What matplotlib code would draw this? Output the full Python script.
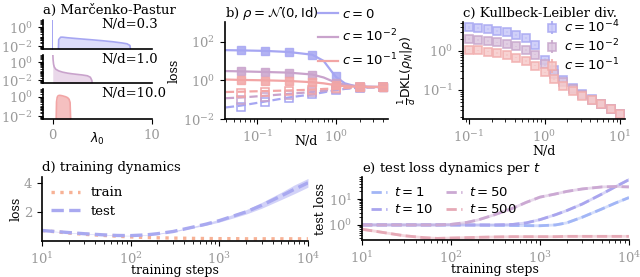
import matplotlib
matplotlib.use("Agg")
import matplotlib.pyplot as plt
from matplotlib import ticker
import numpy as np

plt.rcParams['font.family'] = 'DejaVu Serif'
plt.rcParams['mathtext.fontset'] = 'dejavusans'
plt.rcParams['font.size'] = 9
plt.rcParams['xtick.labelsize'] = 9.5
plt.rcParams['ytick.labelsize'] = 9.5
plt.rcParams['xtick.labelcolor'] = '#999999'
plt.rcParams['ytick.labelcolor'] = '#999999'
plt.rcParams['axes.linewidth'] = 1.2
plt.rcParams['xtick.major.size'] = 3.5
plt.rcParams['ytick.major.size'] = 3.5
plt.rcParams['xtick.minor.size'] = 2
plt.rcParams['ytick.minor.size'] = 2

BLUE = '#a6a6f2'
MAUVE = '#c9a3cc'
PINK = '#f2a5a5'

# a) Marcenko-Pastur spectra (read off the picture)
mp_ratios = ['N/d=0.3', 'N/d=1.0', 'N/d=10.0']
spike03_lam = [-0.06, 0.06]
spike03_rho = [10, 10]
lam03 = [0.55, 0.6, 0.8, 1.0, 1.5, 2.0, 3.0, 4.0, 5.0, 6.0, 7.0, 7.5, 7.8, 7.95]
rho03 = [1e-3, 0.05, 0.09, 0.09, 0.078, 0.07, 0.057, 0.047, 0.038, 0.03, 0.022, 0.018, 0.012, 1e-3]
lam1 = [0.0, 0.03, 0.08, 0.15, 0.3, 0.6, 1.0, 1.5, 2.0, 2.5, 3.0, 3.5, 3.8, 3.95, 4.05]
rho1 = [10, 2.0, 0.6, 0.3, 0.17, 0.11, 0.08, 0.062, 0.052, 0.045, 0.039, 0.032, 0.022, 0.01, 1e-3]
lam10 = [0.33, 0.38, 0.45, 0.55, 0.7, 0.9, 1.1, 1.3, 1.5, 1.65, 1.75, 1.83]
rho10 = [1e-3, 0.3, 0.9, 1.3, 1.4, 1.3, 1.15, 1.0, 0.8, 0.55, 0.25, 1e-3]

# b) loss vs N/d, theory lines and experiment markers
b_x_line = [0.04, 0.0625, 0.125, 0.25, 0.5, 0.7, 0.85, 1.0, 1.3, 1.7, 2.5, 4.5]
b_train_line = {
    0: [36, 35, 33, 29, 21, 10, 3.5, 1.5, 0.7, 0.52, 0.46, 0.45],
    1e-2: [3.0, 2.9, 2.7, 2.5, 2.0, 1.4, 1.0, 0.77, 0.6, 0.52, 0.47, 0.45],
    1e-1: [1.1, 1.05, 1.0, 0.93, 0.8, 0.7, 0.62, 0.55, 0.5, 0.47, 0.46, 0.45],
}
b_test_line = {
    0: [0.04, 0.05, 0.08, 0.13, 0.19, 0.24, 0.28, 0.31, 0.36, 0.4, 0.43, 0.44],
    1e-2: [0.12, 0.13, 0.16, 0.2, 0.25, 0.29, 0.31, 0.34, 0.38, 0.41, 0.43, 0.44],
    1e-1: [0.25, 0.26, 0.28, 0.3, 0.33, 0.36, 0.37, 0.39, 0.41, 0.43, 0.44, 0.45],
}
b_x_pts = [0.0625, 0.125, 0.25, 0.5, 1, 2, 4]
b_train_pts = {
    0: [35, 33, 29, 20, 1.6, 0.46, 0.45],
    1e-2: [3.2, 2.8, 2.5, 1.8, 0.75, 0.46, 0.45],
    1e-1: [1.0, 0.95, 0.88, 0.78, 0.56, 0.46, 0.45],
}
b_test_pts = {
    0: [0.042, 0.08, 0.13, 0.19, 0.32, 0.42, 0.44],
    1e-2: [0.1, 0.14, 0.18, 0.24, 0.34, 0.43, 0.44],
    1e-1: [0.22, 0.25, 0.28, 0.32, 0.39, 0.44, 0.45],
}
b_labels = {0: r'$c=0$', 1e-2: r'$c=10^{-2}$', 1e-1: r'$c=10^{-1}$'}
b_colors = {0: BLUE, 1e-2: MAUVE, 1e-1: PINK}

# c) KL divergence vs N/d
kl_x = [0.1, 0.133, 0.178, 0.237, 0.316, 0.422, 0.562, 0.75, 1.0, 1.33,
        1.78, 2.37, 3.16, 4.22, 5.62, 7.5, 10.0]
kl_c4 = [4.0, 3.85, 3.6, 3.3, 3.0, 2.6, 2.1, 1.4, 0.6, 0.32, 0.18, 0.11, 0.078, 0.058, 0.044, 0.033, 0.025]
kl_c2 = [2.0, 1.9, 1.8, 1.65, 1.5, 1.3, 1.05, 0.8, 0.45, 0.26, 0.16, 0.105, 0.075, 0.057, 0.043, 0.032, 0.024]
kl_c1 = [1.08, 1.02, 0.95, 0.87, 0.78, 0.67, 0.55, 0.42, 0.28, 0.19, 0.13, 0.095, 0.071, 0.056, 0.043, 0.032, 0.024]
kl_err4 = [0.3, 0.25, 0.2, 0.2, 0.15, 0.15, 0.12, 0.1, 0.05, 0.02, 0.01, 0.006, 0.004, 0.003, 0.002, 0.002, 0.001]
kl_err2 = [0.1, 0.1, 0.08, 0.08, 0.07, 0.06, 0.05, 0.04, 0.03, 0.015, 0.008, 0.005, 0.004, 0.003, 0.002, 0.002, 0.001]
kl_err1 = [0.05, 0.05, 0.04, 0.04, 0.03, 0.03, 0.03, 0.02, 0.015, 0.01, 0.006, 0.005, 0.004, 0.003, 0.002, 0.002, 0.001]

# d) training dynamics, e) test loss per t
steps = [10, 15, 20, 30, 50, 70, 100, 150, 200, 300, 500, 700, 1000, 1500, 2000, 3000, 5000, 7000, 10000]
train_loss = [0.72, 0.62, 0.55, 0.46, 0.38, 0.33, 0.28, 0.24, 0.22, 0.2, 0.18, 0.17, 0.16, 0.16, 0.15, 0.15, 0.15, 0.15, 0.15]
test_loss = [0.72, 0.64, 0.58, 0.5, 0.42, 0.38, 0.37, 0.42, 0.5, 0.65, 0.95, 1.15, 1.4, 1.75, 2.0, 2.45, 3.1, 3.55, 4.0]
test_lo = [0.7, 0.62, 0.56, 0.48, 0.4, 0.36, 0.35, 0.4, 0.47, 0.61, 0.9, 1.08, 1.3, 1.62, 1.85, 2.25, 2.85, 3.25, 3.7]
test_hi = [0.74, 0.66, 0.6, 0.52, 0.44, 0.4, 0.39, 0.44, 0.53, 0.69, 1.0, 1.22, 1.5, 1.88, 2.15, 2.65, 3.35, 3.85, 4.3]

t_labels = [r'$t=1$', r'$t=10$', r'$t=50$', r'$t=500$']
t_colors = ['#a2b6f6', '#a9a5ee', '#cba9d3', '#e6a9b6']
t1_loss = [1.0, 1.0, 1.0, 1.0, 1.0, 1.0, 1.0, 0.99, 0.98, 0.97, 0.95, 0.94, 0.93, 1.0, 1.2, 2.0, 4.2, 7.0, 11.5]
t10_loss = [1.0, 1.0, 1.0, 1.0, 1.0, 1.0, 1.0, 1.0, 1.0, 1.0, 1.05, 1.2, 1.6, 2.5, 3.6, 6.5, 16, 30, 57]
t50_loss = [1.0, 1.0, 1.0, 1.0, 1.0, 1.0, 1.05, 1.25, 1.55, 2.4, 4.5, 7.5, 12, 16, 20, 25, 30, 31, 30]
t500_loss = [0.68, 0.55, 0.47, 0.38, 0.32, 0.3, 0.31, 0.32, 0.33, 0.34, 0.35, 0.35, 0.35, 0.35, 0.36, 0.36, 0.36, 0.36, 0.36]
t_losses = [t1_loss, t10_loss, t50_loss, t500_loss]


def clean(ax):
    ax.spines['top'].set_visible(False)
    ax.spines['right'].set_visible(False)


fig = plt.figure(figsize=(6.4, 2.77), dpi=100)

# ---- a) three stacked spectra
a_pos = [[0.067, 0.823, 0.170, 0.105],
         [0.067, 0.700, 0.170, 0.101],
         [0.067, 0.570, 0.170, 0.108]]
a_data = [(lam03, rho03, BLUE, '#dcdcfa'), (lam1, rho1, MAUVE, '#ead8ea'), (lam10, rho10, PINK, '#f5c0c0')]
for i, (pos, (lam, rho, ec, fc)) in enumerate(zip(a_pos, a_data)):
    ax = fig.add_axes(pos)
    clean(ax)
    ax.fill_between(lam, 1e-4, rho, color=fc, lw=0)
    ax.plot(lam, rho, color=ec, lw=1.2)
    if i == 0:
        ax.fill_between(spike03_lam, 1e-4, spike03_rho, color=ec, lw=0)
    ax.set_yscale('log')
    ax.set_ylim(5e-3, 6)
    ax.set_xlim(-1, 10)
    ax.set_yticks([1e-2, 1])
    ax.yaxis.set_minor_locator(ticker.LogLocator(subs='all', numticks=20))
    ax.yaxis.set_minor_formatter(ticker.NullFormatter())
    ax.set_xticks([0, 10])
    ax.text(0.54, 0.84, mp_ratios[i], transform=ax.transAxes, ha='left', va='center', fontsize=9.5)
    if i < 2:
        ax.tick_params(axis='x', labelbottom=False, length=0)
    else:
        ax.set_xlabel(r'$\lambda_0$', labelpad=-8)
    if i == 0:
        ax.set_title('a) Marčenko-Pastur', loc='left', fontsize=9.5, pad=4)

# ---- b) loss vs N/d
axb = fig.add_axes([0.3516, 0.570, 0.2547, 0.350])
clean(axb)
for c in [0, 1e-2, 1e-1]:
    col = b_colors[c]
    axb.plot(b_x_line, b_train_line[c], '-', color=col, lw=1.6, label=b_labels[c])
    axb.plot(b_x_line, b_test_line[c], '--', color=col, lw=1.6)
    axb.plot(b_x_pts, b_train_pts[c], 's', color=col, ms=5.5, mfc=col, alpha=0.85)
    axb.plot(b_x_pts, b_test_pts[c], 's', color=col, ms=5.5, mfc='none', mew=1.1)
axb.set_xscale('log')
axb.set_yscale('log')
axb.set_xlim(0.039, 4.6)
axb.set_ylim(1e-2, 1e3)
axb.set_yticks([1e-2, 1, 1e2])
axb.yaxis.set_minor_locator(ticker.NullLocator())
axb.set_ylabel('loss', labelpad=2)
axb.set_xlabel('N/d', labelpad=-7)
axb.set_title(r'b) $\rho=\mathcal{N}(0,\mathrm{Id})$', loc='left', fontsize=9.5, pad=4)
axb.legend(loc='upper right', bbox_to_anchor=(1.13, 1.27), frameon=False,
           handlelength=1.5, handletextpad=0.3, labelspacing=0.55, fontsize=9.5)

# ---- c) KL divergence
axc = fig.add_axes([0.7234, 0.570, 0.253, 0.350])
clean(axc)
for y, err, col, fc, lab in [(kl_c4, kl_err4, '#a8a8f2', '#c8c8f8', r'$c=10^{-4}$'),
                             (kl_c2, kl_err2, '#c7a6cb', '#dcc6df', r'$c=10^{-2}$'),
                             (kl_c1, kl_err1, '#f1acac', '#f6caca', r'$c=10^{-1}$')]:
    axc.errorbar(kl_x, y, yerr=err, fmt='s', color=col, mfc=fc, mec=col, ms=5.5, mew=1.2,
                 elinewidth=1.5, alpha=0.85, label=lab)
axc.set_xscale('log')
axc.set_yscale('log')
axc.set_xlim(0.083, 11.6)
axc.set_ylim(0.018, 5.4)
axc.set_ylabel(r'$\frac{1}{d}\mathrm{DKL}(\rho_N|\rho)$', labelpad=2)
axc.set_xlabel('N/d', labelpad=0)
axc.set_title('c) Kullbeck-Leibler div.', loc='left', fontsize=9.5, pad=4)
axc.legend(loc='upper right', bbox_to_anchor=(1.04, 1.16), frameon=False,
           handlelength=1.0, handletextpad=0.4, labelspacing=0.2, fontsize=9.5)

# ---- d) training dynamics
axd = fig.add_axes([0.0656, 0.130, 0.4156, 0.231])
clean(axd)
axd.fill_between(steps, test_lo, test_hi, color=BLUE, alpha=0.5, lw=0)
axd.plot(steps, train_loss, ':', color='#f7b296', lw=2.4, label='train')
axd.plot(steps, test_loss, '--', color='#a9a9f0', lw=2.4, label='test')
axd.set_xscale('log')
axd.set_xlim(10, 1e4)
axd.set_ylim(0, 4.4)
axd.set_yticks([2, 4])
axd.set_ylabel('loss', labelpad=1)
axd.set_xlabel('training steps', labelpad=-2)
axd.set_title('d) training dynamics', loc='left', fontsize=9.5, pad=4)
axd.legend(loc='upper left', frameon=False, handlelength=2.2, handletextpad=0.8,
           labelspacing=0.4, borderaxespad=0.3, fontsize=9.5)

# ---- e) test loss per t
axe = fig.add_axes([0.5656, 0.1336, 0.417, 0.227])
clean(axe)
for y, col, lab in zip(t_losses, t_colors, t_labels):
    axe.plot(steps, y, '-', color=col, lw=2.0, alpha=0.45)
    axe.plot(steps, y, '--', color=col, lw=2.0, label=lab)
axe.set_xscale('log')
axe.set_yscale('log')
axe.set_xlim(10, 1e4)
axe.set_ylim(0.26, 72)
axe.set_ylabel('test loss', labelpad=1)
axe.set_xlabel('training steps', labelpad=-2)
axe.set_title(r'e) test loss dynamics per $t$', loc='left', fontsize=9.5, pad=4)
handles, labels = axe.get_legend_handles_labels()
axe.legend(handles, labels, loc='upper left', ncol=2, frameon=False, handlelength=1.2,
           handletextpad=0.5, labelspacing=0.3, columnspacing=1.0, borderaxespad=0.3, fontsize=9.5)

fig.savefig('out.png', dpi=100)
